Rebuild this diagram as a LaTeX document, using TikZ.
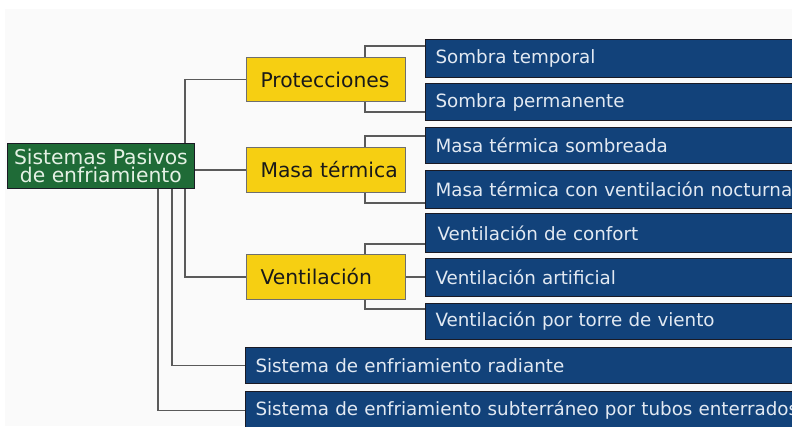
\documentclass[tikz,border=0pt]{standalone}
\usepackage{fontspec}
\setmainfont{DejaVu Sans}
\usetikzlibrary{backgrounds}
\definecolor{bgc}{HTML}{FAFAFA}
\definecolor{gfill}{HTML}{1F6B37}
\definecolor{gtext}{HTML}{E4F1E4}
\definecolor{yfill}{HTML}{F6CF12}
\definecolor{yline}{HTML}{6E6E6E}
\definecolor{bfill}{HTML}{12427A}
\definecolor{bline}{HTML}{1A1A24}
\definecolor{btext}{HTML}{E2E9F2}
\definecolor{linec}{HTML}{5A5A5A}
\begin{document}
\begin{tikzpicture}[x=1pt,y=-1pt,
  greenbox/.style={fill=gfill, draw=bline, line width=0.8pt, minimum width=187pt, minimum height=45pt,
    inner sep=0pt, align=center, text=gtext, font=\fontsize{20.3}{18.5}\selectfont, anchor=north west},
  ybox/.style={fill=yfill, draw=yline, line width=1pt, text width=131pt, inner xsep=14pt, inner ysep=0pt,
    align=left, text=black!90, font=\fontsize{20.3}{24}\selectfont, anchor=north west},
  bbox/.style={fill=bfill, draw=bline, line width=1pt, text width=360pt, inner xsep=10pt, inner ysep=0pt,
    align=left, text=btext, font=\fontsize{18.3}{22}\selectfont, anchor=north west},
  conn/.style={draw=linec, line width=1.3pt}]
\useasboundingbox (0,0) rectangle (792,426);
% nodes
\node[greenbox] (g) at (7,143) {Sistemas Pasivos\\de enfriamiento};
\node[ybox, minimum height=44pt] (prot) at (246,57) {\mbox{Protecciones}};
\node[ybox, minimum height=45pt] (masa) at (246,147) {\mbox{Masa térmica}};
\node[ybox, minimum height=45pt] (vent) at (246,254) {\mbox{Ventilación}};
\node[bbox, minimum height=38pt] (b1) at (425,39) {Sombra temporal};
\node[bbox, minimum height=37pt] (b2) at (425,83) {Sombra permanente};
\node[bbox, minimum height=36pt] (b3) at (425,127) {Masa térmica sombreada};
\node[bbox, minimum height=38pt] (b4) at (425,170) {\mbox{Masa térmica con ventilación nocturna}};
\node[bbox, minimum height=39pt, inner xsep=12pt] (b5) at (425,213) {Ventilación de confort};
\node[bbox, minimum height=38pt] (b6) at (425,258) {Ventilación artificial};
\node[bbox, minimum height=36pt] (b7) at (425,303) {Ventilación por torre de viento};
\node[bbox, text width=600pt, minimum height=36pt] (rad) at (245,347) {Sistema de enfriamiento radiante};
\node[bbox, text width=600pt, minimum height=38pt] (sub) at (245,391) {\mbox{Sistema de enfriamiento subterráneo por tubos enterrados}};
\coordinate (x185) at (185,0);
\coordinate (x172) at (172,0);
\coordinate (x158) at (158,0);
\coordinate (x365) at (365,0);
\begin{scope}[on background layer]
\fill[bgc] (5,9) rectangle (792,426);
\draw[conn] (g.north -| x185) |- (prot.west);
\draw[conn] (g.south -| x185) |- (vent.west);
\draw[conn] (g.east |- masa.west) -- (masa.west);
\draw[conn] (g.south -| x172) |- (rad.west);
\draw[conn] (g.south -| x158) |- (sub.west);
\draw[conn] (prot.north -| x365) |- ([yshift=-7pt]b1.north west);
\draw[conn] (prot.south -| x365) |- ([yshift=9pt]b2.south west);
\draw[conn] (masa.north -| x365) |- ([yshift=-9pt]b3.north west);
\draw[conn] (masa.south -| x365) |- ([yshift=6pt]b4.south west);
\draw[conn] (vent.north -| x365) |- ([yshift=9pt]b5.south west);
\draw[conn] (vent.east) -- (vent.east -| b6.west);
\draw[conn] (vent.south -| x365) |- ([yshift=-6pt]b7.north west);
\end{scope}
\end{tikzpicture}
\end{document}
